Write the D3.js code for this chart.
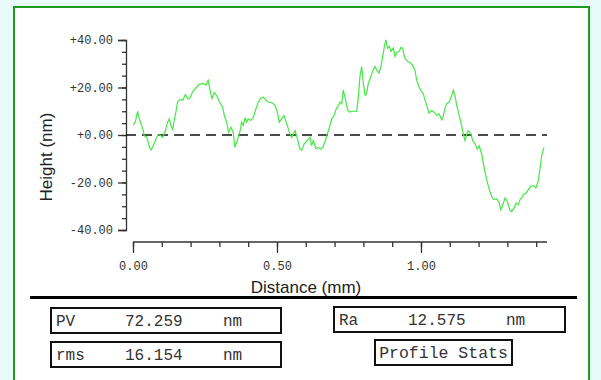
<!DOCTYPE html>
<html>
<head>
<meta charset="utf-8">
<script src="https://cdn.jsdelivr.net/npm/d3@7.9.0/dist/d3.min.js"></script>
<style>
  body { margin: 0; background: #e8fbfb; }
  svg { display: block; }
  .tick text { fill: #333; }
</style>
</head>
<body>
<div id="chart"></div>
<script>
// profile: distance (mm) and height (nm)
const distance = [
  0.000, 0.008, 0.016, 0.022, 0.028, 0.034, 0.039, 0.048, 0.057, 0.063,
  0.070, 0.080, 0.086, 0.094, 0.103, 0.112, 0.120, 0.126, 0.132, 0.138,
  0.143, 0.149, 0.155, 0.163, 0.173, 0.182, 0.190, 0.198, 0.207, 0.219,
  0.230, 0.244, 0.253, 0.261, 0.267, 0.274, 0.282, 0.291, 0.300, 0.311,
  0.317, 0.325, 0.332, 0.340, 0.348, 0.354, 0.362, 0.372, 0.377, 0.383,
  0.389, 0.395, 0.400, 0.409, 0.418, 0.427, 0.435, 0.443, 0.452, 0.462,
  0.470, 0.482, 0.493, 0.501, 0.508, 0.516, 0.524, 0.534, 0.543, 0.551,
  0.563, 0.568, 0.580, 0.586, 0.594, 0.605, 0.615, 0.620, 0.626, 0.635,
  0.643, 0.652, 0.661, 0.673, 0.682, 0.690, 0.698, 0.707, 0.711, 0.719,
  0.725, 0.730, 0.736, 0.745, 0.753, 0.765, 0.777, 0.782, 0.788, 0.794,
  0.800, 0.806, 0.811, 0.817, 0.826, 0.834, 0.840, 0.846, 0.854, 0.861,
  0.867, 0.873, 0.878, 0.884, 0.890, 0.896, 0.904, 0.910, 0.916, 0.924,
  0.931, 0.936, 0.944, 0.954, 0.962, 0.970, 0.979, 0.985, 0.993, 1.000,
  1.008, 1.014, 1.020, 1.028, 1.037, 1.045, 1.055, 1.063, 1.072, 1.075,
  1.083, 1.089, 1.098, 1.107, 1.112, 1.118, 1.124, 1.133, 1.141, 1.147,
  1.153, 1.159, 1.164, 1.173, 1.180, 1.188, 1.196, 1.202, 1.211, 1.219,
  1.228, 1.237, 1.245, 1.253, 1.263, 1.272, 1.277, 1.284, 1.292, 1.300,
  1.309, 1.315, 1.323, 1.330, 1.338, 1.344, 1.350, 1.355, 1.365, 1.373,
  1.381, 1.390, 1.399, 1.407, 1.413, 1.419, 1.427
];
const height = [
  4.3, 5.4, 9.9, 6.8, 4.7, 2.6, -0.3, -1.0, -5.2, -6.3,
  -4.6, -1.7, 0.0, 0.0, -1.0, 1.8, 5.4, 6.8, 4.0, 2.3,
  6.1, 9.7, 13.9, 15.0, 14.6, 17.0, 15.3, 15.6, 18.2, 19.9,
  21.3, 21.7, 21.0, 23.1, 19.3, 15.3, 17.9, 16.5, 13.9, 11.8,
  8.2, 5.4, 1.1, 3.3, 1.1, -5.2, -2.4, 1.8, 5.4, 4.0,
  7.1, 5.4, 6.8, 6.1, 7.5, 11.1, 13.9, 15.3, 16.0, 14.6,
  13.9, 13.6, 12.5, 9.7, 5.4, 6.8, 8.2, 4.7, 1.1, -1.0,
  1.8, -0.3, -6.0, -6.4, -3.8, -2.4, -1.0, -4.6, -2.4, -5.7,
  -5.2, -6.0, -4.8, -0.3, 3.3, 6.8, 8.2, 11.4, 11.8, 13.9,
  13.2, 18.9, 16.0, 10.6, 9.7, 10.1, 9.9, 15.3, 24.6, 28.8,
  21.7, 16.7, 17.4, 21.7, 24.6, 27.4, 28.8, 27.4, 26.0, 28.8,
  33.1, 37.3, 40.1, 36.6, 37.3, 35.2, 36.6, 33.1, 34.8, 35.2,
  37.0, 36.6, 32.3, 30.9, 30.5, 29.5, 27.4, 23.1, 20.3, 18.6,
  17.4, 14.6, 12.5, 9.2, 10.3, 9.7, 8.2, 8.9, 6.4, 6.8,
  11.1, 13.2, 13.9, 16.7, 18.9, 16.7, 12.5, 8.2, 4.0, 0.4,
  -2.4, 0.4, 1.8, 0.4, -2.4, -3.8, -6.0, -4.6, -8.1, -13.7,
  -18.7, -23.0, -25.8, -27.2, -26.9, -28.6, -31.5, -29.4, -26.5, -28.0,
  -31.5, -32.2, -30.8, -28.6, -29.4, -27.2, -26.5, -25.1, -24.4, -23.0,
  -21.6, -21.3, -22.3, -19.4, -14.5, -8.8, -5.2
];

const yMajorTicks = [-40, -20, 0, 20, 40];
const yMinorTicks = d3.range(-40, 40.1, 5);
const xMajorTicks = [0, 0.5, 1.0];
const xMinorTicks = d3.range(0, 1.41, 0.1);

// stats boxes: [label, value, unit]
const statsLeft = [["PV", "72.259", "nm"], ["rms", "16.154", "nm"]];
const statsRight = [["Ra", "12.575", "nm"]];
const statsTitle = "Profile Stats";

const points = distance.map((d, i) => ({ d, h: height[i] }));

const width = 601, h = 380;
const svg = d3.select('#chart').append('svg')
  .attr('width', width)
  .attr('height', h);

// white panel with green border
svg.append('rect')
  .attr('x', 14).attr('y', 7)
  .attr('width', 575).attr('height', 390)
  .attr('fill', '#fff')
  .attr('stroke', '#1f9a1f')
  .attr('stroke-width', 2);

const xScale = d3.scaleLinear().domain([0, 1.44]).range([133, 547.7]);
const yScale = d3.scaleLinear().domain([-40, 40]).range([230, 40]);

const fmt = (v) => (v >= 0 ? '+' : '') + v.toFixed(2);

// y axis: minor then major
svg.append('g')
  .attr('transform', 'translate(126,0)')
  .call(d3.axisLeft(yScale).tickValues(yMinorTicks).tickSize(4).tickSizeOuter(0).tickFormat(''))
  .call(g => g.select('.domain').remove());
svg.append('g')
  .attr('class', 'yaxis')
  .attr('transform', 'translate(126,0)')
  .call(d3.axisLeft(yScale).tickValues(yMajorTicks).tickSize(8).tickSizeOuter(8).tickPadding(5).tickFormat(fmt))
  .call(g => g.selectAll('text')
    .style('font-family', '"Liberation Mono", monospace')
    .style('font-size', '12px'));

// x axis
svg.append('g')
  .attr('transform', 'translate(0,242)')
  .call(d3.axisBottom(xScale).tickValues(xMinorTicks).tickSize(5).tickSizeOuter(0).tickFormat(''))
  .call(g => g.select('.domain').remove());
svg.append('g')
  .attr('transform', 'translate(0,242)')
  .call(d3.axisBottom(xScale).tickValues(xMajorTicks).tickSize(11).tickSizeOuter(0).tickPadding(8).tickFormat(v => v.toFixed(2)))
  .call(g => g.select('.domain').attr('d', `M${xScale(0)},0H547`))
  .call(g => g.selectAll('text')
    .style('font-family', '"Liberation Mono", monospace')
    .style('font-size', '12px'));
svg.selectAll('g line, g path.domain').attr('stroke', '#333').attr('stroke-width', 1.3);

// zero reference line
svg.append('line')
  .attr('x1', 126).attr('x2', 547)
  .attr('y1', yScale(0)).attr('y2', yScale(0))
  .attr('stroke', '#111')
  .attr('stroke-width', 1.6)
  .attr('stroke-dasharray', '10,6');

// profile
const line = d3.line().x(p => xScale(p.d)).y(p => yScale(p.h));
svg.append('path')
  .datum(points)
  .attr('d', line)
  .attr('fill', 'none')
  .attr('stroke', '#45e845')
  .attr('stroke-width', 1.2);

// axis titles
svg.append('text')
  .attr('x', 306).attr('y', 293)
  .attr('text-anchor', 'middle')
  .style('font-family', '"Liberation Sans", Arial, sans-serif')
  .style('font-size', '17px')
  .attr('fill', '#222')
  .text('Distance (mm)');
svg.append('text')
  .attr('transform', 'translate(52,157) rotate(-90)')
  .attr('text-anchor', 'middle')
  .style('font-family', '"Liberation Sans", Arial, sans-serif')
  .style('font-size', '17px')
  .attr('fill', '#222')
  .text('Height (nm)');

// separator
svg.append('line')
  .attr('x1', 30).attr('x2', 577)
  .attr('y1', 297.5).attr('y2', 297.5)
  .attr('stroke', '#000')
  .attr('stroke-width', 3);

// stat boxes
function statBox(x, y, w, row) {
  const g = svg.append('g');
  g.append('rect')
    .attr('x', x).attr('y', y).attr('width', w).attr('height', 25)
    .attr('fill', '#fff').attr('stroke', '#111').attr('stroke-width', 2);
  const offs = [5, 74, 172];
  row.forEach((t, i) => {
    g.append('text')
      .attr('x', x + offs[i]).attr('y', y + 18)
      .style('font-family', '"Liberation Mono", "Courier New", monospace')
      .style('font-size', '16px')
      .attr('fill', '#333')
      .text(t);
  });
}
statBox(51, 308, 230, statsLeft[0]);
statBox(51, 342, 230, statsLeft[1]);
statBox(334, 307, 231, statsRight[0]);

svg.append('rect')
  .attr('x', 375).attr('y', 340).attr('width', 137).attr('height', 25)
  .attr('fill', '#fff').attr('stroke', '#111').attr('stroke-width', 2);
svg.append('text')
  .attr('x', 443.5).attr('y', 358)
  .attr('text-anchor', 'middle')
  .style('font-family', '"Liberation Mono", "Courier New", monospace')
  .style('font-size', '16.5px')
  .attr('fill', '#333')
  .text(statsTitle);
</script>
</body>
</html>
